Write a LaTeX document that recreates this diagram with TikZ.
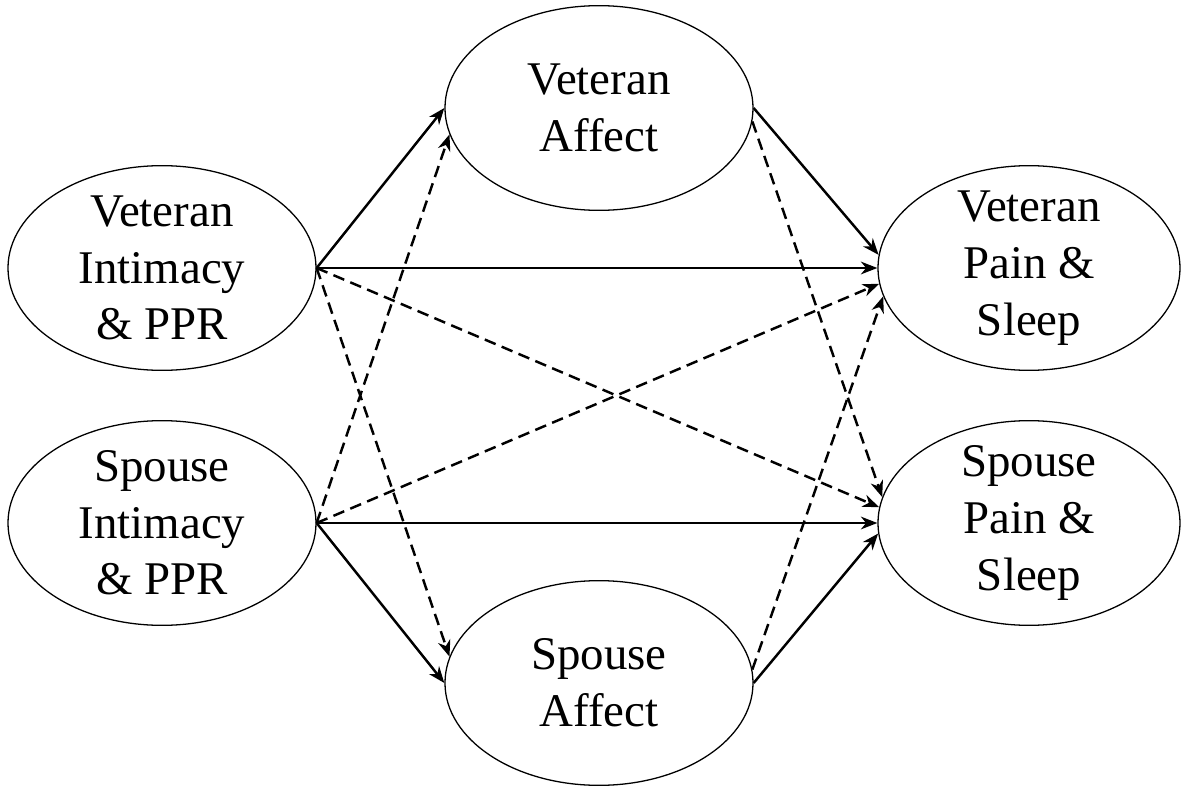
\documentclass[tikz,border=0pt]{standalone}
\usepackage{fontspec}
\setmainfont{Liberation Serif}
\usepackage{tikz}
\usetikzlibrary{arrows.meta, shapes.geometric}

\begin{document}
\begin{tikzpicture}[x=0.015cm, y=-0.015cm,
    ell/.style={draw, ellipse, line width=0.55pt, minimum width=4.62cm, minimum height=3.07cm, inner sep=0pt},
    txt/.style={align=center, font=\fontsize{20}{24.2}\selectfont},
    solidarr/.style={-{Stealth[length=7pt, width=5.4pt, inset=2.2pt]}, line width=1.05pt},
    dasharr/.style={solidarr, dash pattern=on 5pt off 2.8pt}]
    \useasboundingbox (0,0) rectangle (1181,786);

    % 椭圆
    \node[ell] (VI) at (162,268) {};
    \node[ell] (SI) at (162,523) {};
    \node[ell] (VA) at (599,108) {};
    \node[ell] (SA) at (599,683) {};
    \node[ell, minimum width=4.53cm] (VP) at (1029,268) {};
    \node[ell, minimum width=4.53cm] (SP) at (1029,523) {};

    % 文字
    \node[txt] (VI-t) at (VI) {Veteran\\Intimacy\\\& PPR};
    \node[txt] (SI-t) at (SI) {Spouse\\Intimacy\\\& PPR};
    \node[txt] (VA-t) at (VA) {Veteran\\Affect};
    \node[txt] (SA-t) at (SA) {Spouse\\Affect};
    \node[txt] (VP-t) at (VP) {Veteran\\Pain \&\\Sleep};
    \node[txt] (SP-t) at (SP) {Spouse\\Pain \&\\Sleep};

    % 实线箭头
    \draw[solidarr] (VI.east) -- (VA.west);
    \draw[solidarr] (VI.east) -- (VP.west);
    \draw[solidarr] (SI.east) -- (SA.west);
    \draw[solidarr] (SI.east) -- (SP.west);
    \draw[solidarr] (VA.east) -- (VP.175);
    \draw[solidarr] (SA.east) -- (SP.184);

    % 虚线箭头
    \draw[dasharr] (SI.east) -- (VA.190);
    \draw[dasharr] (VI.east) -- (SA.170);
    \draw[dasharr] (SI.east) -- (VP.186);
    \draw[dasharr] (VI.east) -- (SP.174);
    \draw[dasharr] (VA.-5) -- (SP.170);
    \draw[dasharr] (SA.5) -- (VP.191);
\end{tikzpicture}
\end{document}
